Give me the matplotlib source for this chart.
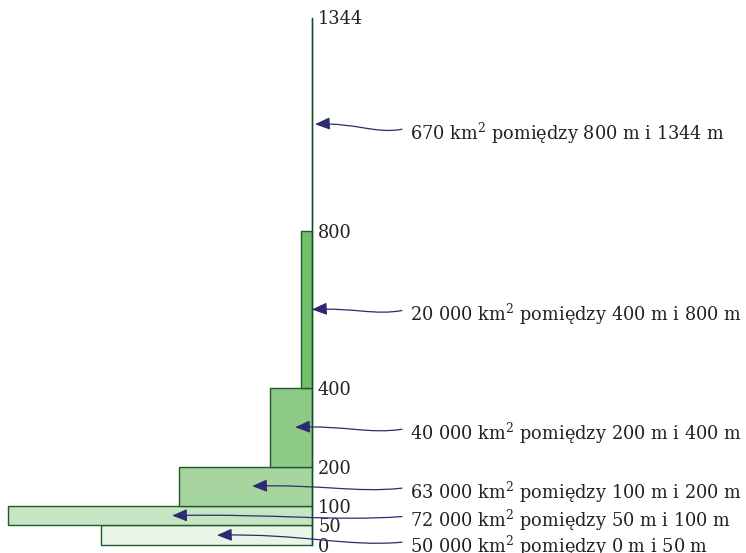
import numpy as np
import matplotlib
matplotlib.use("Agg")
import matplotlib.pyplot as plt
from matplotlib.path import Path
from matplotlib.patches import FancyArrowPatch

plt.rcParams['font.family'] = ['DejaVu Serif']
plt.rcParams['mathtext.fontset'] = 'dejavuserif'

# height bands (m) and area (km2)
bottoms = [0, 50, 100, 200, 400, 800]
tops = [50, 100, 200, 400, 800, 1344]
areas = [50000, 72000, 63000, 40000, 20000, 670]
area_txt = ['50 000', '72 000', '63 000', '40 000', '20 000', '670']
ticks = [0, 50, 100, 200, 400, 800, 1344]
colors = ['#e9f5e7', '#c6e5c3', '#a6d5a0', '#8dca87', '#72bf6c', '#5cb55a']
tip_frac = [0.45, 0.46, 0.45, 0.4, 0.0, 0.0]

W, H = 746, 553
sx = 304 / 1440.0      # px per unit (km2 per m)
sy = 527.5 / 1344.0    # px per m
x0, y0 = 312, 8        # pixel position of origin (from left, from bottom)

fig = plt.figure(figsize=(W / 100, H / 100), dpi=100)
ax = fig.add_axes([0, 0, 1, 1])
ax.set_xlim(-x0 / sx, (W - x0) / sx)
ax.set_ylim(-y0 / sy, (H - y0) / sy)
ax.axis('off')

heights = np.array(tops) - np.array(bottoms)
widths = np.array(areas) / heights

ax.barh(bottoms, -widths, height=heights, left=0, align='edge',
        color=colors, edgecolor='#1f5a2c', linewidth=1.0, zorder=2)
ax.plot([0, 0], [0, tops[-1]], color='#1a4a24', lw=1.0, zorder=3)

fs = 12.8
for t in ticks:
    ax.text(6 / sx, t, str(t), ha='left', va='center_baseline', fontsize=fs,
            color='#222222', zorder=4)

navy = '#2e2a72'
text_x = 410
text_dy = [-8, -2, -3, -3, -2, -6]   # px offset of label centre below tip
for i in range(len(areas)):
    mid = (bottoms[i] + tops[i]) / 2
    tipx = -tip_frac[i] * widths[i]
    if i == 5:
        tipx = 3 / sx
    label_y = mid + text_dy[i] / sy
    ax.text((text_x - x0) / sx, label_y,
            area_txt[i] + r' km$^{\mathrm{2}}$ pomiędzy %d m i %d m' % (bottoms[i], tops[i]),
            ha='left', va='center_baseline', fontsize=fs, color='#222222')
    # S-shaped arrow from label to band
    stx, sty = (402 - x0) / sx, label_y + 1 / sy
    L = stx - tipx
    verts = [(stx, sty),
             (stx - 0.3 * L, sty - 5 / sy),
             (tipx + 0.45 * L, mid + 2 / sy),
             (tipx, mid)]
    p = Path(verts, [Path.MOVETO, Path.CURVE4, Path.CURVE4, Path.CURVE4])
    arr = FancyArrowPatch(path=p, arrowstyle='-|>,head_length=0.6,head_width=0.25',
                          mutation_scale=15, color=navy, lw=0.9, zorder=5)
    ax.add_patch(arr)

fig.savefig('out.png', dpi=100)
